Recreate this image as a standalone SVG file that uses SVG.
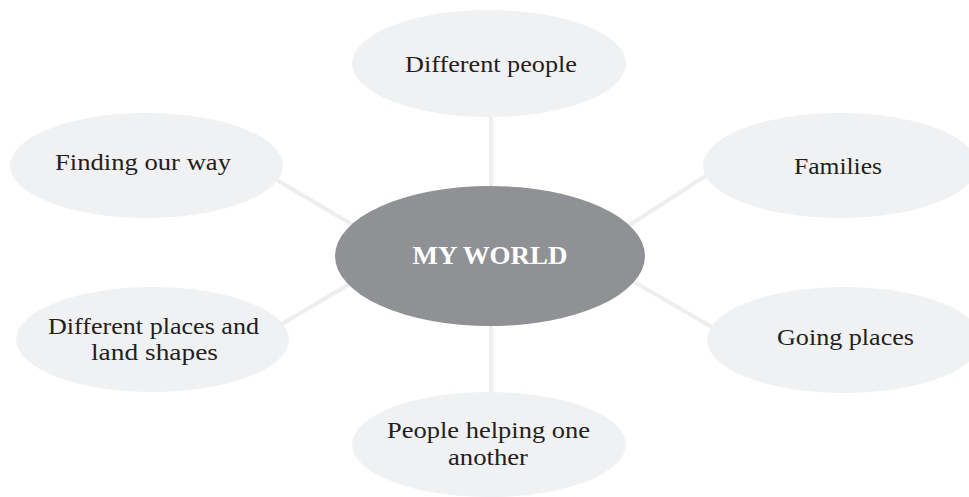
<svg xmlns="http://www.w3.org/2000/svg" width="969" height="497" viewBox="0 0 969 497">
<style>
.bg{fill:#ffffff}
.leaf{fill:#f0f1f2}
.hub{fill:#909195}
.conn{stroke:#eeeeef;stroke-width:4;fill:none}
.t{font-family:"Liberation Serif","Times New Roman",serif;font-size:24px;fill:#231f20;text-anchor:middle}
.h{font-family:"Liberation Serif","Times New Roman",serif;font-size:26px;font-weight:bold;fill:#ffffff;text-anchor:middle}
</style>
<rect class="bg" x="0" y="0" width="969" height="497"/>
<g id="connectors">
<line class="conn" x1="491" y1="100" x2="491" y2="200"/>
<line class="conn" x1="491" y1="310" x2="491" y2="410"/>
<line class="conn" x1="265" y1="173" x2="380" y2="241"/>
<line class="conn" x1="265" y1="334" x2="380" y2="266"/>
<line class="conn" x1="715" y1="170" x2="600" y2="244"/>
<line class="conn" x1="722" y1="333" x2="600" y2="262"/>
</g>
<g id="node-different-people">
<ellipse class="leaf" cx="489" cy="63.5" rx="137" ry="53.5"/>
<text class="t" x="491" y="72" textLength="172" lengthAdjust="spacingAndGlyphs">Different people</text>
</g>
<g id="node-finding-our-way">
<ellipse class="leaf" cx="146.5" cy="165.5" rx="136.5" ry="52.5"/>
<text class="t" x="143" y="170" textLength="176" lengthAdjust="spacingAndGlyphs">Finding our way</text>
</g>
<g id="node-families">
<ellipse class="leaf" cx="840" cy="165.5" rx="137" ry="52.5"/>
<text class="t" x="838" y="174" textLength="88" lengthAdjust="spacingAndGlyphs">Families</text>
</g>
<g id="node-different-places">
<ellipse class="leaf" cx="152.5" cy="339.5" rx="136.5" ry="52.5"/>
<text class="t" x="153.5" y="334" textLength="211" lengthAdjust="spacingAndGlyphs">Different places and</text>
<text class="t" x="154.5" y="360" textLength="127" lengthAdjust="spacingAndGlyphs">land shapes</text>
</g>
<g id="node-going-places">
<ellipse class="leaf" cx="844" cy="340" rx="137" ry="53"/>
<text class="t" x="845.5" y="345" textLength="137" lengthAdjust="spacingAndGlyphs">Going places</text>
</g>
<g id="node-people-helping">
<ellipse class="leaf" cx="489" cy="444.5" rx="137" ry="52.5"/>
<text class="t" x="488.5" y="438" textLength="203" lengthAdjust="spacingAndGlyphs">People helping one</text>
<text class="t" x="488" y="465" textLength="80" lengthAdjust="spacingAndGlyphs">another</text>
</g>
<g id="node-my-world">
<ellipse class="hub" cx="490" cy="256" rx="155" ry="70"/>
<text class="h" x="490" y="264" textLength="155" lengthAdjust="spacingAndGlyphs">MY WORLD</text>
</g>
</svg>
